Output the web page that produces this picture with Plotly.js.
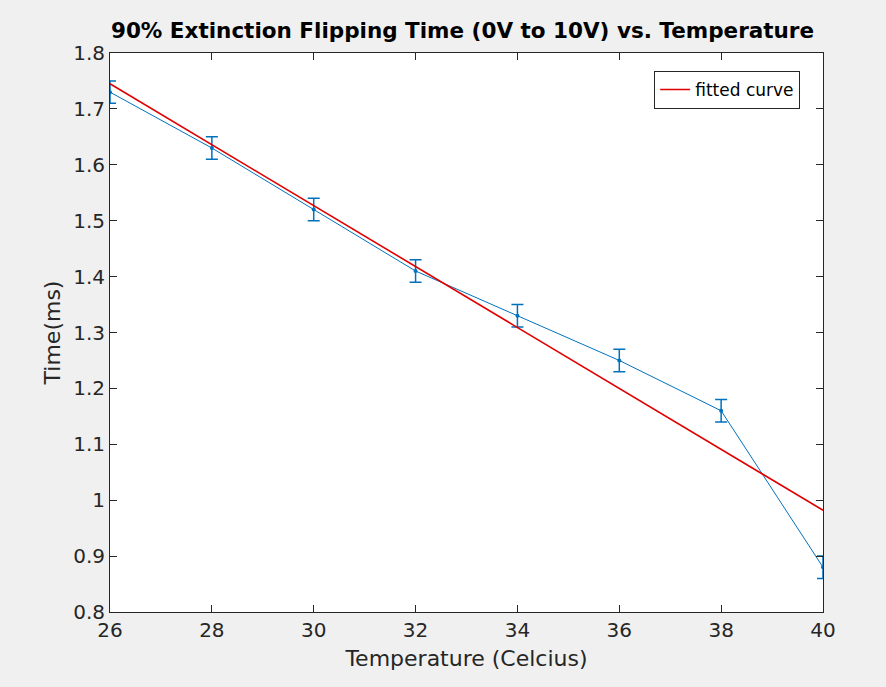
<!DOCTYPE html>
<html>
<head>
<meta charset="utf-8">
<script src="https://cdn.plot.ly/plotly-3.0.1.min.js"></script>
<style>html,body{margin:0;padding:0;background:#f0f0f0;}#chart{width:886px;height:687px;}</style>
</head>
<body>
<div id="chart"></div>
<script>
const temperature = [26, 28, 30, 32, 34, 36, 38, 40];
const timeMs = [1.73, 1.63, 1.52, 1.41, 1.33, 1.25, 1.16, 0.88];
const timeErr = [0.02, 0.02, 0.02, 0.02, 0.02, 0.02, 0.02, 0.02];
const fittedTime = [1.745, 1.636, 1.527, 1.418, 1.309, 1.200, 1.091, 0.982];
const xTicks = [26, 28, 30, 32, 34, 36, 38, 40];
const yTicks = [0.8, 0.9, 1, 1.1, 1.2, 1.3, 1.4, 1.5, 1.6, 1.7, 1.8];
const yTickText = ['0.8', '0.9', '1', '1.1', '1.2', '1.3', '1.4', '1.5', '1.6', '1.7', '1.8'];

const font = '"DejaVu Sans", sans-serif';

const traces = [
  {
    x: temperature, y: timeMs, type: 'scatter', mode: 'lines+markers',
    line: {color: '#0072BD', width: 1},
    marker: {color: '#0072BD', size: 4},
    error_y: {type: 'data', array: timeErr, visible: true, color: '#0072BD', thickness: 1.5, width: 6},
    showlegend: false, hoverinfo: 'skip'
  },
  {
    x: temperature, y: fittedTime, type: 'scatter', mode: 'lines',
    name: 'fitted curve',
    line: {color: '#e00000', width: 1.6}
  }
];

const axisCommon = {
  showline: true, linecolor: '#262626', linewidth: 1, mirror: 'ticks',
  ticks: 'inside', ticklen: 7, tickcolor: '#262626', tickwidth: 1,
  showgrid: false, zeroline: false,
  tickfont: {family: font, size: 20, color: '#262626'}
};

const layout = {
  width: 886, height: 687,
  paper_bgcolor: '#f0f0f0', plot_bgcolor: '#ffffff',
  margin: {l: 110, r: 63, t: 53, b: 75},
  title: {
    text: '<b>90% Extinction Flipping Time (0V to 10V) vs. Temperature</b>',
    font: {family: font, size: 21.5, color: '#000000'},
    x: 0.522, xanchor: 'center', y: 0.955, yanchor: 'middle'
  },
  xaxis: Object.assign({}, axisCommon, {
    range: [26, 40], tickvals: xTicks, ticktext: xTicks.map(String),
    title: {text: 'Temperature (Celcius)', font: {family: font, size: 22, color: '#262626'}, standoff: 9}
  }),
  yaxis: Object.assign({}, axisCommon, {
    range: [0.8, 1.8], tickvals: yTicks, ticktext: yTickText,
    title: {text: 'Time(ms)', font: {family: font, size: 22, color: '#262626'}, standoff: 6}
  }),
  legend: {
    x: 0.968, xanchor: 'right', y: 0.968, yanchor: 'top',
    bgcolor: '#ffffff', bordercolor: '#262626', borderwidth: 1,
    font: {family: font, size: 17, color: '#000000'},
    tracegroupgap: 0
  },
  showlegend: true
};

Plotly.newPlot('chart', traces, layout, {displayModeBar: false, staticPlot: true});
</script>
</body>
</html>
